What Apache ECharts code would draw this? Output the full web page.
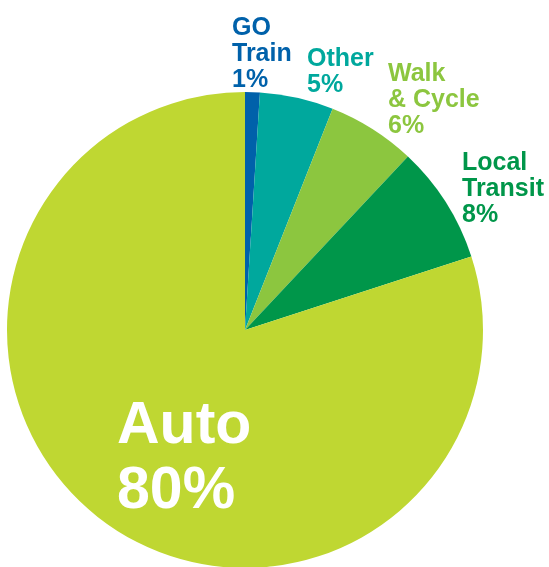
<!DOCTYPE html>
<html>
<head>
<meta charset="utf-8">
<script src="https://cdn.jsdelivr.net/npm/echarts@6/dist/echarts.min.js"></script>
<style>
  html, body { margin: 0; padding: 0; background: #fff; }
  #chart { width: 549px; height: 567px; }
</style>
</head>
<body>
<div id="chart"></div>
<script>
// mode share data, clockwise from 12 o'clock
const categories = ['GO\nTrain', 'Other', 'Walk\n& Cycle', 'Local\nTransit', 'Auto'];
const shares = [1, 5, 6, 8, 80];
const colors = ['#0061aa', '#00a89d', '#8cc63f', '#00964a', '#bfd732'];

// where each label block sits (top-left of text)
const labelSpots = [
  { x: 232, y: 15 },
  { x: 307, y: 46 },
  { x: 388, y: 61 },
  { x: 462, y: 150 },
  { x: 117, y: 394 }
];

const chart = echarts.init(document.getElementById('chart'));

const option = {
  animation: false,
  backgroundColor: '#fff',
  series: [
    {
      type: 'pie',
      center: [245, 330],
      radius: [0, 238],
      startAngle: 90,
      clockwise: true,
      silent: true,
      avoidLabelOverlap: false,
      label: {
        show: true,
        position: 'outside',
        formatter: p => p.name + '\n' + p.value + '%',
        fontFamily: '"Liberation Sans", Arial, sans-serif',
        fontWeight: 'bold',
        fontSize: 25,
        lineHeight: 26,
        align: 'left',
        overflow: 'none'
      },
      labelLine: { show: false },
      labelLayout: params => ({
        x: labelSpots[params.dataIndex].x,
        y: labelSpots[params.dataIndex].y,
        align: 'left',
        verticalAlign: 'top'
      }),
      data: categories.map((name, i) => {
        const item = {
          name: name,
          value: shares[i],
          itemStyle: { color: colors[i] },
          label: { color: colors[i] }
        };
        if (name === 'Auto') {
          item.label = { color: '#fff', fontSize: 59, lineHeight: 65 };
        }
        return item;
      })
    }
  ]
};

chart.setOption(option);
</script>
</body>
</html>
